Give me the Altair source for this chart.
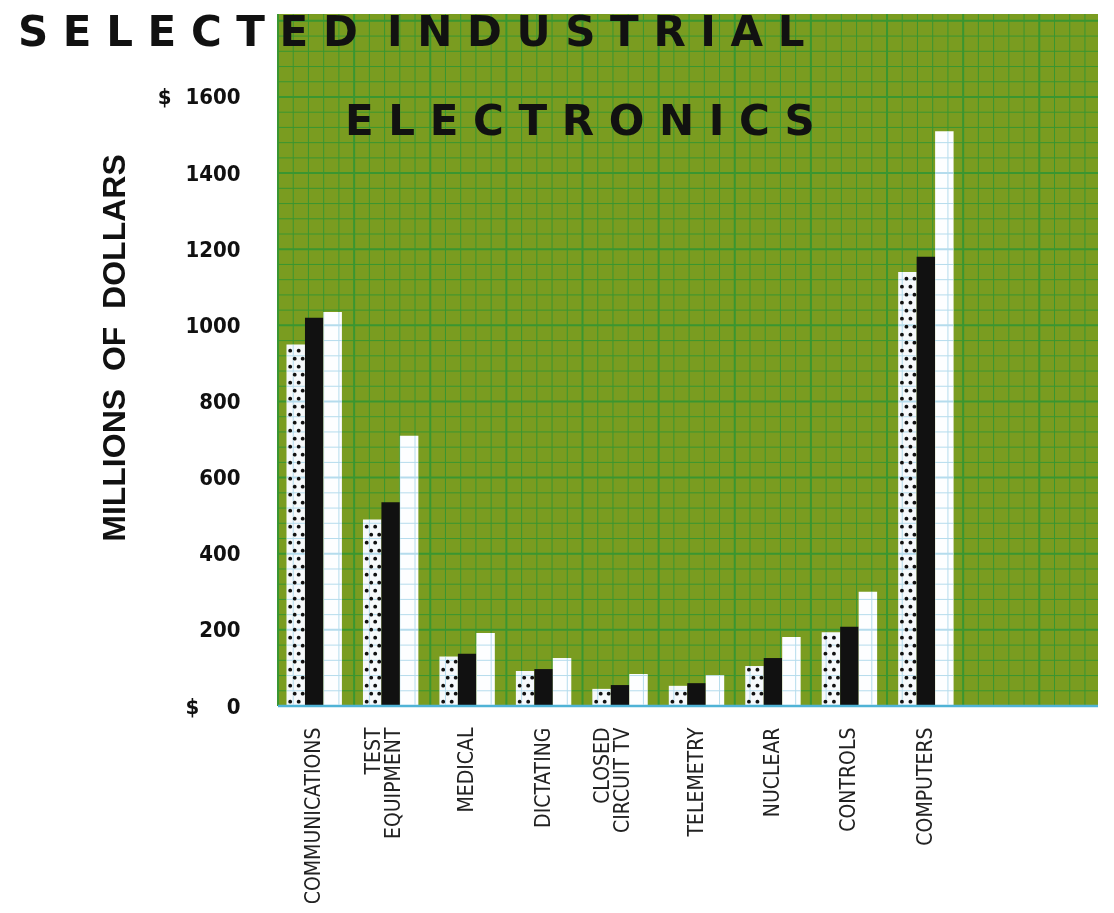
import altair as alt
import pandas as pd

# ---- data (millions of dollars) ----
categories = ["COMMUNICATIONS", "TEST\nEQUIPMENT", "MEDICAL", "DICTATING",
              "CLOSED\nCIRCUIT TV", "TELEMETRY", "NUCLEAR", "CONTROLS", "COMPUTERS"]
series_names = ["dotted", "black", "white"]
dotted_values = [950, 490, 130, 92, 45, 53, 105, 194, 1140]
black_values = [1020, 535, 137, 97, 55, 60, 126, 208, 1180]
white_values = [1035, 710, 192, 126, 84, 81, 181, 300, 1510]
y_ticks = [0, 200, 400, 600, 800, 1000, 1200, 1400, 1600]

title_line1 = "SELECTED INDUSTRIAL"
title_line2 = "ELECTRONICS"
y_title = "MILLIONS OF DOLLARS"

rows = []
for name, vals in zip(series_names, [dotted_values, black_values, white_values]):
    for c, v in zip(categories, vals):
        rows.append({"category": c, "series": name, "value": v})
df = pd.DataFrame(rows)

# ---- layout / style ----
W, H = 820, 692
YMAX = 1818
CELL = H / YMAX * 40          # px per 40-unit grid cell
BG = "#7a9c20"
GRID_GREEN = "#3a9630"
GRID_BLUE = "#b5dced"
COND = "DejaVu Sans Condensed, Roboto, sans-serif"
NB = "\u00a0"

def spaced(s):
    words = s.split(" ")
    return (NB * 2).join(NB.join(list(w)) for w in words)

yscale = alt.Scale(domain=[0, YMAX], nice=False, zero=True)
xscale = alt.Scale(domain=categories, paddingInner=0.2754, paddingOuter=1, align=0.0556)
xoscale = alt.Scale(domain=series_names, paddingInner=0, paddingOuter=0)

x_axis = alt.Axis(title=None, labelAngle=270, labelPadding=21, ticks=False, domain=False,
                  labelFont=COND, labelFontSize=21, labelColor="#222222",
                  labelLineHeight=20, labelLimit=0, labelOverlap=False,
                  labelOffset={"condition": {"test": "indexof(datum.label, '\\n') >= 0", "value": -17},
                               "value": 0},
                  labelExpr="split(datum.label, '\\n')")
y_label_expr = ("datum.value == 1600 ? '$" + NB * 2 + "1600' : datum.value == 0 ? '$" + NB * 4 +
                "0' : format(datum.value, 'd')")
y_axis = alt.Axis(title=None, values=y_ticks, ticks=False, domain=False, grid=False,
                  labelPadding=38, labelFont=COND, labelFontWeight="bold", labelFontSize=22,
                  labelColor="#111111", labelExpr=y_label_expr)

X = alt.X("category:N", scale=xscale, axis=x_axis, sort=categories)
XO = alt.XOffset("series:N", scale=xoscale, sort=series_names)

def Y(field):
    return alt.Y(field, scale=yscale, axis=y_axis)

base = alt.Chart(df)

bars = base.mark_bar().encode(
    x=X, xOffset=XO,
    y=Y("value:Q"),
    color=alt.Color("series:N", scale=alt.Scale(domain=series_names,
                    range=["#f6f9fb", "#111111", "#fdfeff"]), legend=None),
)

def dot_layer(start, dx):
    return (base.transform_filter(alt.datum.series == "dotted")
            .transform_calculate(d=f"sequence({start}, datum.value - 6, 42)")
            .transform_flatten(["d"])
            .mark_text(text="\u25cf", fontSize=5, dx=dx, align="center", baseline="middle",
                       color="#111111", font="DejaVu Sans")
            .encode(x=X, xOffset=XO, y=Y("d:Q")))

dots = [dot_layer(12, -5.5), dot_layer(12, 3), dot_layer(33, -1), dot_layer(33, 7)]

hseq = alt.sequence(0, YMAX, 40, as_="v")
def hgrid(color, blend=None):
    kw = dict(color=color)
    if blend:
        kw["blend"] = blend
    return alt.Chart(hseq).mark_rule(**kw).encode(
        y=Y("v:Q"),
        strokeWidth=alt.condition("datum.v % 200 == 0", alt.value(2), alt.value(1)),
    )

vseq = alt.sequence(0, int(W / CELL) + 1, 1, as_="g")
def vgrid(color, blend=None):
    kw = dict(color=color)
    if blend:
        kw["blend"] = blend
    return alt.Chart(vseq).mark_rule(**kw).encode(
        x=alt.X("g:Q", scale=alt.Scale(domain=[0, W / CELL], nice=False, zero=True), axis=None),
        strokeWidth=alt.condition("datum.g % 5 == 0", alt.value(2), alt.value(1)),
    )

baseline = alt.Chart(alt.Data(values=[{"z": 0}])).mark_rule(color="#4fb3d6", strokeWidth=2.5).encode(
    y=Y("z:Q"))

inner = alt.layer(hgrid(GRID_GREEN), bars, *dots, hgrid(GRID_BLUE, "darken"), baseline)

one = alt.Data(values=[{"k": 1}])
t1 = alt.Chart(one).mark_text(text=spaced(title_line1), font="DejaVu Sans", fontWeight="bold",
                              fontSize=42, align="left", baseline="alphabetic", color="#111111").encode(
    x=alt.value(-260), y=alt.value(32))
t2 = alt.Chart(one).mark_text(text=spaced(title_line2), font="DejaVu Sans", fontWeight="bold",
                              fontSize=42, align="left", baseline="alphabetic", color="#111111").encode(
    x=alt.value(67), y=alt.value(121))
t3 = alt.Chart(one).mark_text(text=y_title.replace(" ", NB * 2),
                              font="Liberation Sans", fontWeight="bold",
                              fontSize=32, align="center", baseline="middle", angle=270,
                              color="#111111").encode(
    x=alt.value(-163), y=alt.value(334))

chart = alt.layer(vgrid(GRID_GREEN), inner, vgrid(GRID_BLUE, "darken"), t1, t2, t3).resolve_scale(
    x="independent"
).properties(
    width=W, height=H,
    autosize=alt.AutoSizeParams(type="none"),
    padding={"left": 270, "top": 6, "right": 0, "bottom": 197},
    background="white",
).configure_view(fill=BG, stroke=None)

chart.save("out.html", embed_options={"renderer": "svg", "actions": False})
